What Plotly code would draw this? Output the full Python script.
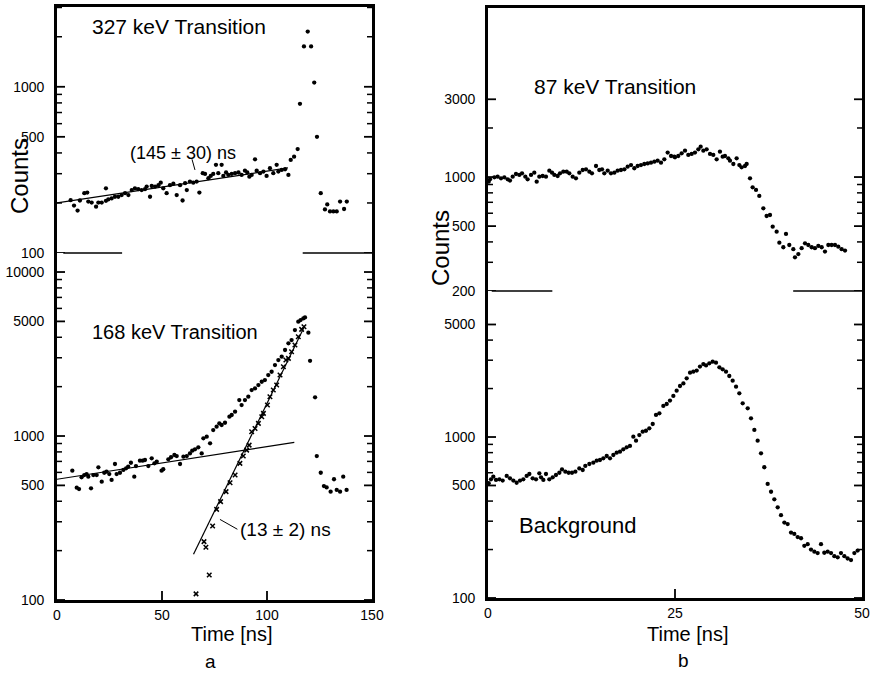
import plotly.graph_objects as go

# ---------------- data (time in ns, counts) ----------------
t327 = [6.5,8.1,9.8,10.9,13.0,14.4,14.9,16.5,18.6,19.7,21.3,23.3,23.3,24.4,26.0,27.6,29.2,30.8,32.4,34.0,
        35.6,37.1,38.7,40.3,41.9,42.7,44.3,45.1,46.7,48.3,49.4,50.6,52.2,53.8,55.4,57.0,58.6,59.8,61.0,61.8,
        63.3,64.9,66.5,67.8,69.4,70.5,72.1,73.2,74.4,75.7,76.8,78.4,79.2,80.5,81.6,83.2,84.8,86.4,87.9,89.5,
        90.6,91.6,92.7,94.3,95.1,96.7,98.3,99.8,101.4,103.0,104.6,105.4,107.0,108.6,110.2,
        111.3,112.9,114.6,115.7,117.6,119.4,121.0,122.5,123.8,125.6,127.6,128.7,130.0,131.6,133.2,134.8,136.7,138.0]
c327 = [208,193,180,207,229,231,204,201,190,201,201,245,206,210,213,218,218,223,229,223,
        239,245,242,239,242,251,218,253,251,256,265,245,229,256,261,223,256,207,263,239,
        269,265,269,231,302,299,282,291,299,339,302,339,291,305,295,299,302,305,295,313,
        305,288,295,366,313,302,309,291,324,302,339,309,316,319,295,
        363,380,422,790,1750,2150,1750,1060,500,229,183,196,178,178,178,204,184,204]
fit327_t = [0, 110]
fit327_c = [200, 325]
lead327_t = [64.3, 65.7]
lead327_c = [366, 316]

t168 = [7.3,9.4,10.5,11.7,13.0,14.1,14.9,16.2,17.3,18.9,19.7,21.3,22.5,23.6,24.9,26.0,27.6,28.4,30.0,31.6,
        32.9,33.9,35.2,36.8,37.6,39.5,40.8,41.9,43.5,45.1,46.4,47.5,49.8,50.6,53.0,54.3,55.9,57.0,58.6,60.2,
        61.8,63.3,64.4,65.7,67.3,68.9,
        69.7,71.3,72.9,74.4,76.0,77.3,78.4,80.0,82.1,83.2,84.8,86.8,87.9,89.5,91.1,92.7,94.3,95.9,97.5,99.0,
        100.6,102.2,103.8,105.4,107.0,108.6,110.2,111.7,113.3,114.9,116.0,117.3,118.1,
        119.7,120.5,122.9,123.7,125.6,127.1,128.4,130.3,131.9,133.2,134.8,136.3,137.9]
c168 = [615,484,475,560,578,586,565,480,578,578,644,527,597,606,586,540,675,586,597,621,
        635,650,687,565,656,707,707,714,656,731,681,697,615,627,721,742,766,755,675,748,
        755,783,814,829,853,783,
        968,991,902,1087,1140,1194,1167,1205,1312,1343,1407,1657,1544,1657,1737,1907,1952,2045,2143,2193,
        2353,2465,2708,2906,3045,3345,3672,3848,4428,4977,5093,5213,5287,
        4266,2876,1722,755,597,495,486,458,545,469,458,565,469]
t168x = [66.2,70.0,70.9,72.5,74.1,76.0,77.9,80.5,82.4,84.8,87.1,88.7,90.3,91.5,92.7,94.3,95.9,97.5,98.3,
         100.2,101.4,103.0,104.6,106.2,107.8,109.0,110.2,111.7,113.3,114.9,116.5,117.6]
c168x = [109,227,210,142,283,357,398,458,519,578,681,755,820,880,1062,1112,1194,1312,1374,
         1544,1737,1907,2045,2353,2644,2906,2974,3266,3586,4031,4470,4638]
fit168a_t = [0, 113]
fit168a_c = [545, 915]
fit168b_t = [65, 118]
fit168b_c = [190, 4700]
lead168_t = [77.6, 85.9]
lead168_c = [310, 270]

t87 = [0.09,0.27,0.85,1.29,1.74,2.18,2.63,2.94,3.30,3.74,4.19,4.55,4.99,5.30,5.75,6.19,6.51,6.86,7.31,7.75,
       8.20,8.56,8.87,9.31,9.63,10.07,10.52,10.87,11.32,11.76,12.21,12.66,13.10,13.55,13.90,14.44,14.88,15.24,
       15.55,16.0,16.44,16.89,17.33,17.78,18.23,18.67,19.12,19.56,20.01,20.45,20.90,21.35,21.79,22.24,22.68,
       23.13,23.57,24.02,24.47,24.91,
       25.0,25.44,25.89,26.34,26.78,27.23,27.67,28.12,28.43,28.79,29.23,29.68,30.12,30.57,31.01,31.37,31.68,
       32.13,32.35,32.80,33.24,33.6,33.91,34.36,34.58,35.03,35.38,35.83,36.27,36.81,37.25,37.70,38.06,38.59,
       38.95,39.48,39.84,40.28,40.82,41.04,41.49,41.93,42.38,42.82,43.27,43.71,44.16,44.61,45.05,45.5,45.94,
       46.39,46.83,47.28,47.73]
c87 = [937,969,996,1005,982,996,969,951,1005,1044,1030,1054,1005,969,1030,1064,937,1005,1015,1005,
       1094,1064,1030,1015,1054,1079,1079,1054,1005,982,1064,1105,1115,1079,1054,1169,1105,1115,
       1054,1094,1054,1064,1094,1105,1115,1158,1185,1132,1169,1185,1202,1213,1225,1242,1261,
       1225,1285,1412,1346,1334,
       1321,1346,1399,1452,1366,1386,1412,1480,1536,1452,1480,1386,1366,1285,1432,1334,1346,
       1303,1261,1202,1303,1185,1148,1169,1202,982,865,834,766,643,577,585,496,462,
       396,371,448,383,361,322,337,366,392,383,371,366,378,371,349,383,383,
       383,374,361,354]

tbg = [0.09,0.40,0.71,1.07,1.52,1.96,2.50,2.94,3.39,3.83,4.28,4.72,5.17,5.53,5.97,6.42,6.86,7.09,7.40,7.75,
       8.20,8.65,9.09,9.54,9.89,10.34,10.78,11.23,11.68,12.21,12.66,13.01,13.55,14.08,14.53,14.97,15.42,15.87,
       16.31,16.76,17.20,17.65,18.09,18.54,18.98,19.43,19.79,20.23,20.68,21.12,21.57,22.02,22.46,22.91,23.44,
       23.89,24.33,24.78,25.22,25.67,26.12,26.56,27.01,27.45,27.90,28.34,28.79,29.15,29.59,30.04,30.48,30.93,
       31.37,31.82,32.26,32.71,33.16,33.60,34.05,34.72,35.16,35.61,36.05,36.50,36.94,37.39,37.84,38.28,38.73,
       39.17,39.62,40.06,40.51,40.95,41.40,41.85,42.29,42.74,43.18,43.63,44.07,44.52,44.96,45.41,45.86,46.30,
       46.75,47.19,47.64,48.08,48.53,48.98,49.42]
cbg = [516,546,567,541,546,536,573,554,536,520,536,546,573,589,554,546,595,562,541,589,
       546,562,581,600,629,609,600,600,609,638,624,661,680,693,713,720,737,762,
       737,773,799,811,838,863,880,1005,949,1028,1079,1094,1132,1205,1371,1403,1560,
       1603,1683,1799,1941,2075,2153,2314,2510,2547,2585,2737,2840,2786,2868,2937,2897,2711,
       2632,2547,2393,2238,2055,1868,1618,1507,1306,1106,949,792,649,511,457,410,366,
       327,294,288,255,250,239,235,211,216,200,194,190,216,191,194,190,182,
       179,190,182,176,172,190,197]

xt_a = [0, 50, 100, 150]
xt_b = [0, 25, 50]
yt_327 = [100, 500, 1000]
yt_168 = [100, 500, 1000, 5000, 10000]
yt_87 = [200, 500, 1000, 3000]
yt_bg = [100, 500, 1000, 5000]

FONT = "Liberation Sans"
W, H = 871, 674
XA = [57 / W, 372 / W]
XB = [488 / W, 862 / W]
Y_TL = [1 - 253 / H, 1 - 7 / H]
Y_BL = [1 - 600 / H, 1 - 253 / H]
Y_TR = [1 - 291 / H, 1 - 8 / H]
Y_BR = [1 - 598 / H, 1 - 291 / H]
R_A = [0, 150]
R_B = [0, 50]
R_TL = [2, 3.48]
R_BL = [2, 4.116]
R_TR = [2.301, 4.037]
R_BR = [2, 3.907]

fig = go.Figure()
dot = dict(color="black", size=4.3)

def pts(x, y, xa, ya, marker=dot):
    fig.add_trace(go.Scatter(x=x, y=y, mode="markers", marker=marker, xaxis=xa, yaxis=ya,
                             showlegend=False, hoverinfo="skip", cliponaxis=False))

def line(x, y, xa, ya, w=1.2):
    fig.add_trace(go.Scatter(x=x, y=y, mode="lines", line=dict(color="black", width=w),
                             xaxis=xa, yaxis=ya, showlegend=False, hoverinfo="skip"))

pts(t327, c327, "x", "y")
line(fit327_t, fit327_c, "x", "y")
line(lead327_t, lead327_c, "x", "y", 1)

pts(t168, c168, "x2", "y2")
pts(t168x, c168x, "x2", "y2", dict(color="black", size=4.5, symbol="x-thin",
                                   line=dict(color="black", width=1.5)))
line(fit168a_t, fit168a_c, "x2", "y2")
line(fit168b_t, fit168b_c, "x2", "y2")
line(lead168_t, lead168_c, "x2", "y2", 1)

pts(t87, c87, "x3", "y3")
pts(tbg, cbg, "x4", "y4")

def decade_vals(lo, hi):
    vals = []
    d = 1
    while d <= hi:
        for m in range(1, 10):
            v = m * d
            if lo <= v <= hi:
                vals.append(v)
        d *= 10
    return vals

# inside tick marks on both sides, drawn through each panel's own axes
def y_ticks(xa, ya, xr, xdom, yr, labels, minor_hi=None):
    w_px = (xdom[1] - xdom[0]) * W
    per_px = (xr[1] - xr[0]) / w_px
    lo, hi = 10 ** yr[0], 10 ** yr[1]
    mhi = minor_hi if minor_hi else hi
    for vals, L, lw in [(labels, 8, 1.8),
                        ([v for v in decade_vals(lo * 0.99, mhi) if v not in labels], 5, 1.5)]:
        xs, ys = [], []
        for v in vals:
            xs += [xr[0], xr[0] + L * per_px, None, xr[1] - L * per_px, xr[1], None]
            ys += [v, v, None, v, v, None]
        fig.add_trace(go.Scatter(x=xs, y=ys, mode="lines", line=dict(color="black", width=lw),
                                 xaxis=xa, yaxis=ya, showlegend=False, hoverinfo="skip"))

def x_ticks(xa, ya, xvals, yr, ydom, L=9):
    h_px = (ydom[1] - ydom[0]) * H
    dlog = L * (yr[1] - yr[0]) / h_px
    xs, ys = [], []
    for t in xvals:
        xs += [t, t, None]
        ys += [10 ** yr[0], 10 ** (yr[0] + dlog), None]
    fig.add_trace(go.Scatter(x=xs, y=ys, mode="lines", line=dict(color="black", width=1.8),
                             xaxis=xa, yaxis=ya, showlegend=False, hoverinfo="skip"))

y_ticks("x", "y", R_A, XA, R_TL, yt_327, 3000)
y_ticks("x2", "y2", R_A, XA, R_BL, yt_168)
y_ticks("x3", "y3", R_B, XB, R_TR, yt_87, 3000)
y_ticks("x4", "y4", R_B, XB, R_BR, yt_bg, 5000)
x_ticks("x2", "y2", xt_a[1:-1], R_BL, Y_BL)
x_ticks("x4", "y4", xt_b[1:-1], R_BR, Y_BR)

SP = "\u2002"

def yax(dom, rng, labels, anchor):
    return dict(domain=dom, type="log", range=rng, anchor=anchor,
                showline=True, linewidth=2.6, linecolor="black", mirror=True, ticks="",
                tickmode="array", tickvals=labels, ticktext=[str(v) + SP for v in labels],
                tickfont=dict(family=FONT, size=14, color="black"),
                showgrid=False, zeroline=False)

def xax_top(dom, rng, anchor):
    return dict(domain=dom, range=rng, anchor=anchor, side="top", showline=True,
                linewidth=2.6, linecolor="black", ticks="", showticklabels=False,
                showgrid=False, zeroline=False)

def xax_bot(dom, rng, tv, anchor):
    return dict(domain=dom, range=rng, anchor=anchor, showline=True, linewidth=2.6,
                linecolor="black", ticks="", tickmode="array", tickvals=tv,
                ticktext=[str(v) for v in tv],
                tickfont=dict(family=FONT, size=14, color="black"),
                showgrid=False, zeroline=False)

fig.update_layout(
    width=W, height=H, margin=dict(l=0, r=0, t=0, b=0, autoexpand=False),
    paper_bgcolor="white", plot_bgcolor="rgba(0,0,0,0)",
    font=dict(family=FONT, color="black"),
    xaxis=xax_top(XA, R_A, "y"),
    yaxis=yax(Y_TL, R_TL, yt_327, "x"),
    xaxis2=xax_bot(XA, R_A, xt_a, "y2"),
    yaxis2=yax(Y_BL, R_BL, yt_168, "x2"),
    xaxis3=xax_top(XB, R_B, "y3"),
    yaxis3=yax(Y_TR, R_TR, yt_87, "x3"),
    xaxis4=xax_bot(XB, R_B, xt_b, "y4"),
    yaxis4=yax(Y_BR, R_BR, yt_bg, "x4"),
)

for xr, segs, yv in [("x2", [(3, 31), (117, 150)], Y_BL[1]),
                     ("x4", [(0.5, 8.6), (40.8, 50)], Y_BR[1])]:
    for a, b in segs:
        fig.add_shape(type="line", xref=xr, yref="paper", x0=a, x1=b, y0=yv, y1=yv,
                      line=dict(color="black", width=1.3))

def note(text, x, y, xr, yr, size, angle=0):
    fig.add_annotation(text=text, x=x, y=y, xref=xr, yref=yr, showarrow=False,
                       xanchor="center", yanchor="middle",
                       font=dict(family=FONT, size=size, color="black"), textangle=angle)

note("327 keV Transition", 58.1, 3.361, "x", "y", 21)
note("(145 ± 30) ns", 60, 2.602, "x", "y", 18)
note("168 keV Transition", 56.2, 3.634, "x2", "y2", 20)
note("(13 ± 2) ns", 108.6, 2.427, "x2", "y2", 19)
note("87 keV Transition", 17.0, 3.553, "x3", "y3", 21)
note("Background", 12.0, 2.453, "x4", "y4", 22)

note("Counts", 19 / W, 1 - 176 / H, "paper", "paper", 24, -90)
note("Counts", 440 / W, 1 - 248 / H, "paper", "paper", 24, -90)
note("Time [ns]", 232 / W, 1 - 634 / H, "paper", "paper", 20)
note("Time [ns]", 688 / W, 1 - 634 / H, "paper", "paper", 20)
note("a", 210 / W, 1 - 661 / H, "paper", "paper", 19)
note("b", 683 / W, 1 - 660 / H, "paper", "paper", 19)

fig.write_html("out.html", config={"displayModeBar": False},
               post_script="document.body.style.margin='0';document.body.style.overflow='hidden';")
